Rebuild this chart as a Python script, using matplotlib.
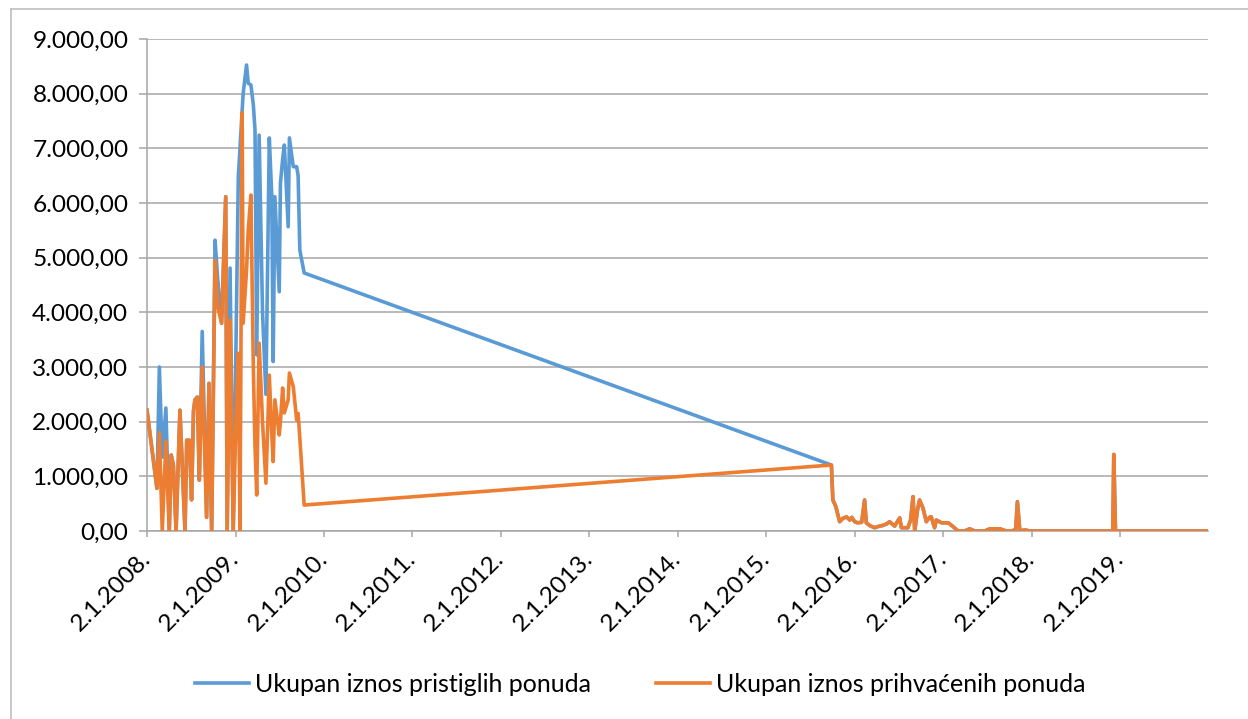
import numpy as np
import pandas as pd
import matplotlib
matplotlib.use("Agg")
import matplotlib.pyplot as plt
import matplotlib.dates as mdates
from matplotlib.lines import Line2D
from matplotlib.ticker import FuncFormatter, MultipleLocator

plt.rcParams["font.family"] = ["Lato", "DejaVu Sans"]

# ── Data ──────────────────────────────────────────────────────────────────────
# 2008-2009: both series differ
dates_0809 = [
    "2008-01-02", "2008-02-12", "2008-02-22", "2008-03-05", "2008-03-20",
    "2008-04-03", "2008-04-11", "2008-04-20", "2008-05-01", "2008-05-17",
    "2008-06-07", "2008-06-14", "2008-06-25", "2008-07-04", "2008-07-12",
    "2008-07-18", "2008-07-28", "2008-08-05", "2008-08-17", "2008-09-04",
    "2008-09-14", "2008-09-25", "2008-10-09", "2008-10-20", "2008-11-05",
    "2008-11-22", "2008-11-28", "2008-12-10", "2008-12-23", "2009-01-03",
    "2009-01-13", "2009-01-20", "2009-01-29", "2009-02-02", "2009-02-16",
    "2009-02-23", "2009-03-06", "2009-03-16", "2009-03-23", "2009-03-30",
    "2009-04-09", "2009-04-23", "2009-05-07", "2009-05-21", "2009-05-31",
    "2009-06-06", "2009-06-13", "2009-07-01", "2009-07-06", "2009-07-15",
    "2009-07-22", "2009-08-07", "2009-08-12", "2009-08-28", "2009-09-11",
    "2009-09-17", "2009-09-24", "2009-10-12",
]
pristigle_0809 = [
    2210, 780, 3000, 1350, 2250,
    0, 1390, 1200, 0, 2210,
    0, 1660, 1660, 570, 2200,
    2400, 2450, 930, 3650, 250,
    2700, 0, 5320, 4600, 3800,
    6115, 0, 4810, 0, 3250,
    6480, 7000, 7700, 8000, 8524,
    8190, 8160, 7800, 7335, 3220,
    7240, 4000, 2500, 7190, 6150,
    3100, 6115, 4377, 6360, 6800,
    7060, 5566, 7190, 6664, 6664,
    6500, 5140, 4720,
]
prihvacene_0809 = [
    2210, 780, 1800, 0, 1640,
    0, 1390, 1200, 0, 2210,
    0, 1660, 1660, 570, 2200,
    2400, 2450, 930, 3000, 250,
    2700, 0, 4950, 4100, 3800,
    6115, 0, 3860, 0, 1970,
    3250, 0, 7650, 3800, 4770,
    5500, 6146, 3000, 1540, 658,
    3436, 2000, 875, 2850, 1800,
    1270, 2400, 1756, 2000, 2615,
    2160, 2400, 2890, 2640, 2030,
    2150, 1700, 475,
]

# 2015-2019: both series coincide
dates_tail = [
    "2015-09-28", "2015-10-04", "2015-10-16", "2015-11-01", "2015-11-14",
    "2015-11-29", "2015-12-13", "2015-12-21", "2016-01-02", "2016-01-14",
    "2016-01-31", "2016-02-12", "2016-02-19", "2016-03-04", "2016-03-24",
    "2016-04-14", "2016-04-26", "2016-05-13", "2016-05-25", "2016-06-15",
    "2016-07-06", "2016-07-13", "2016-08-09", "2016-08-20", "2016-08-30",
    "2016-09-06", "2016-09-18", "2016-09-26", "2016-10-10", "2016-10-24",
    "2016-11-06", "2016-11-13", "2016-11-27", "2016-12-04", "2016-12-26",
    "2017-01-22", "2017-02-06", "2017-03-04", "2017-03-31", "2017-04-21",
    "2017-05-12", "2017-06-22", "2017-07-13", "2017-08-23", "2017-09-20",
    "2017-10-12", "2017-10-28", "2017-11-04", "2017-11-14", "2017-12-04",
    "2017-12-25", "2018-12-03", "2018-12-07", "2018-12-14", "2019-12-30",
]
values_tail = [
    1207, 567, 450, 170, 230,
    260, 200, 250, 170, 150,
    160, 567, 150, 100, 60,
    90, 100, 130, 170, 90,
    240, 60, 60, 200, 628,
    0, 400, 567, 420, 170,
    250, 260, 60, 200, 150,
    150, 100, 0, 0, 40,
    0, 0, 40, 40, 0,
    0, 30, 536, 0, 20,
    0, 0, 1400, 0, 0,
]

year_ticks = list(range(2008, 2020))
series_names = ["Ukupan iznos pristiglih ponuda", "Ukupan iznos prihvaćenih ponuda"]

dates = pd.to_datetime(dates_0809 + dates_tail)
pristigle = pristigle_0809 + values_tail
prihvacene = prihvacene_0809 + values_tail

# ── Plot ──────────────────────────────────────────────────────────────────────
W, H = 1248, 719
fig = plt.figure(figsize=(W / 100, H / 100), dpi=100)
ax = fig.add_axes([147 / W, 1 - 531 / H, (1208 - 147) / W, (531 - 39) / H])

BLUE = "#5B9BD5"
ORANGE = "#ED7D31"
GRID = "#A6A6A6"

ax.plot(dates, pristigle, color=BLUE, lw=2.6, solid_joinstyle="round", label=series_names[0], zorder=3)
ax.plot(dates, prihvacene, color=ORANGE, lw=2.6, solid_joinstyle="round", label=series_names[1], zorder=4)

ax.set_ylim(0, 9000)
ax.yaxis.set_major_locator(MultipleLocator(1000))

def hr_fmt(v, pos):
    s = f"{v:,.2f}"
    return s.replace(",", "X").replace(".", ",").replace("X", ".")

ax.yaxis.set_major_formatter(FuncFormatter(hr_fmt))

tick_dates = [pd.Timestamp(year=y, month=1, day=2) for y in year_ticks]
ax.set_xlim(pd.Timestamp("2008-01-02"), pd.Timestamp("2019-12-31"))
ax.set_xticks(tick_dates)
ax.set_xticklabels([f"{d.day}.{d.month}.{d.year}." for d in tick_dates],
                   rotation=45, ha="right", va="center", rotation_mode="anchor")

ax.grid(axis="y", color=GRID, lw=1.1)
ax.set_axisbelow(True)
for side in ["top", "right"]:
    ax.spines[side].set_visible(False)
for side in ["left", "bottom"]:
    ax.spines[side].set_color(GRID)
    ax.spines[side].set_linewidth(1.1)

ax.tick_params(axis="y", length=5.5, color=GRID, width=1.1, labelsize=17.6, pad=8)
ax.tick_params(axis="x", length=4.5, color=GRID, width=1.1, labelsize=17.6, pad=13)

fig.legend(loc="center", bbox_to_anchor=(640 / W, 1 - 684 / H), ncol=2, frameon=False,
           fontsize=18, handlelength=2.15, handletextpad=0.25, columnspacing=2.6)

# chart-area border (left and top only are visible)
fig.add_artist(Line2D([11 / W, 11 / W], [0, 1 - 9 / H], transform=fig.transFigure, color="#BFBFBF", lw=1.2))
fig.add_artist(Line2D([11 / W, 1], [1 - 9 / H, 1 - 9 / H], transform=fig.transFigure, color="#BFBFBF", lw=1.2))

fig.savefig("out.png", dpi=100)
